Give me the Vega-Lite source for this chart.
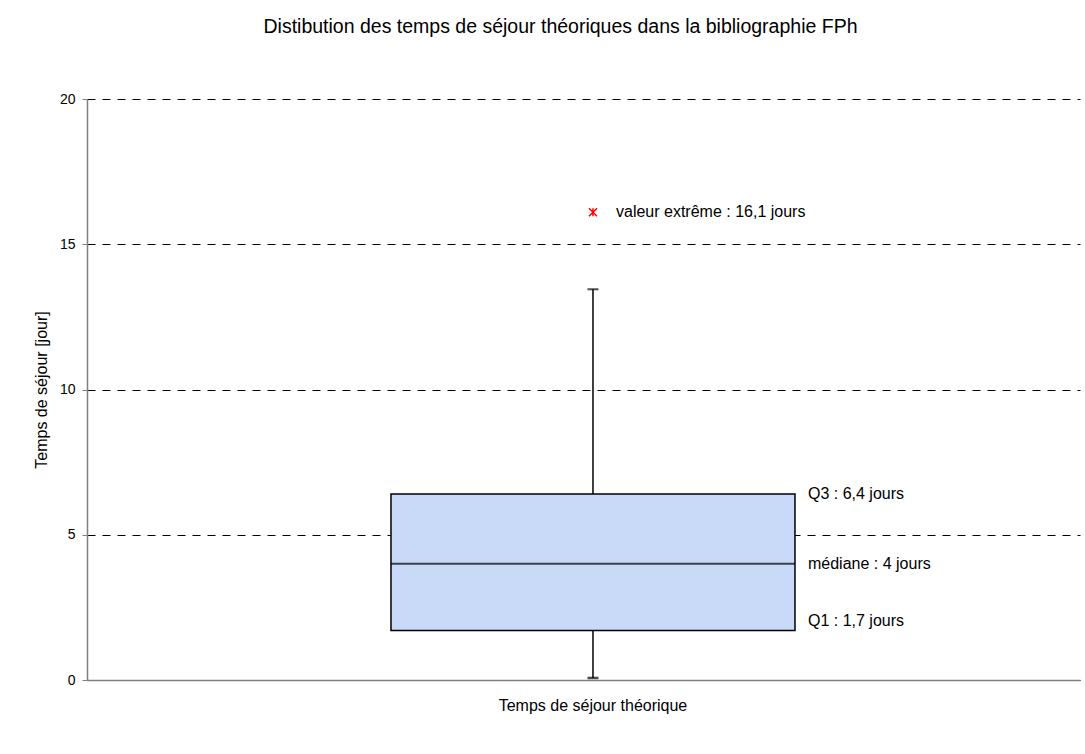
{
  "$schema": "https://vega.github.io/schema/vega-lite/v6.json",
  "autosize": {"type": "none"},
  "width": 993,
  "height": 581,
  "padding": {"left": 87, "top": 99, "right": 5, "bottom": 74},
  "background": "white",
  "title": {
    "text": "Distibution des temps de séjour théoriques dans la bibliographie FPh",
    "font": "Liberation Sans",
    "fontSize": 19.5,
    "fontWeight": "normal",
    "color": "black",
    "anchor": "middle",
    "offset": 55,
    "dx": -23
  },
  "config": {
    "view": {"stroke": null},
    "font": "Liberation Sans",
    "axis": {"labelFont": "Liberation Sans", "titleFont": "Liberation Sans", "labelColor": "black", "titleColor": "black"}
  },
  "datasets": {
    "stats": [
      {"cat": "Temps de séjour théorique", "lower": 0.07, "q1": 1.7, "median": 4.0, "q3": 6.4, "upper": 13.45}
    ],
    "outliers": [
      {"cat": "Temps de séjour théorique", "value": 16.1, "label": "valeur extrême : 16,1 jours"}
    ],
    "labels": [
      {"cat": "Temps de séjour théorique", "value": 6.4, "label": "Q3 : 6,4 jours"},
      {"cat": "Temps de séjour théorique", "value": 4.0, "label": "médiane : 4 jours"}
    ],
    "labelsQ1": [
      {"cat": "Temps de séjour théorique", "value": 1.7, "label": "Q1 : 1,7 jours"}
    ]
  },
  "encoding": {
    "x": {
      "field": "cat",
      "type": "nominal",
      "scale": {"paddingInner": 0, "paddingOuter": 0.5, "align": 0.5191},
      "axis": {
        "title": null,
        "labelAngle": 0,
        "ticks": false,
        "labelPadding": 17,
        "labelFontSize": 16,
        "labelLimit": 600,
        "domainColor": "#808080",
        "domainWidth": 1.5
      }
    }
  },
  "layer": [
    {
      "data": {"name": "stats"},
      "mark": {"type": "rule", "color": "black", "strokeWidth": 1.5},
      "encoding": {
        "y": {
          "field": "upper",
          "type": "quantitative",
          "scale": {"domain": [0, 20], "nice": false},
          "axis": {
            "title": "Temps de séjour [jour]",
            "titleFontSize": 16,
            "titleFontWeight": "normal",
            "titlePadding": 10,
            "values": [0, 5, 10, 15, 20],
            "labelFontSize": 14,
            "labelPadding": 7,
            "tickSize": 5,
            "tickColor": "#808080",
            "domainColor": "#808080",
            "domainWidth": 1.5,
            "grid": true,
            "gridColor": "black",
            "gridDash": [8, 7],
            "gridWidth": 1
          }
        },
        "y2": {"field": "q3"}
      }
    },
    {
      "data": {"name": "stats"},
      "mark": {"type": "rule", "color": "black", "strokeWidth": 1.5},
      "encoding": {
        "y": {"field": "lower", "type": "quantitative"},
        "y2": {"field": "q1"}
      }
    },
    {
      "data": {"name": "stats"},
      "mark": {"type": "bar", "size": 404, "fill": "#C9DAF8", "stroke": "black", "strokeWidth": 1.5},
      "encoding": {
        "y": {"field": "q1", "type": "quantitative"},
        "y2": {"field": "q3"}
      }
    },
    {
      "data": {"name": "stats"},
      "mark": {"type": "tick", "size": 404, "thickness": 2, "color": "black", "orient": "horizontal"},
      "encoding": {
        "y": {"field": "median", "type": "quantitative"}
      }
    },
    {
      "data": {"name": "stats"},
      "mark": {"type": "tick", "size": 11, "thickness": 2, "color": "black", "orient": "horizontal"},
      "encoding": {
        "y": {"field": "upper", "type": "quantitative"}
      }
    },
    {
      "data": {"name": "stats"},
      "mark": {"type": "tick", "size": 11, "thickness": 2.5, "color": "black", "orient": "horizontal"},
      "encoding": {
        "y": {"field": "lower", "type": "quantitative"}
      }
    },
    {
      "data": {"name": "outliers"},
      "mark": {"type": "point", "shape": "M-1,-1L1,1M-1,1L1,-1M0,-1L0,1", "size": 64, "filled": false, "stroke": "red", "strokeWidth": 1.5, "opacity": 1},
      "encoding": {
        "y": {"field": "value", "type": "quantitative"}
      }
    },
    {
      "data": {"name": "outliers"},
      "mark": {"type": "text", "align": "left", "baseline": "middle", "dx": 23, "fontSize": 16, "color": "black"},
      "encoding": {
        "y": {"field": "value", "type": "quantitative"},
        "text": {"field": "label"}
      }
    },
    {
      "data": {"name": "labels"},
      "mark": {"type": "text", "align": "left", "baseline": "middle", "dx": 215, "fontSize": 16, "color": "black"},
      "encoding": {
        "y": {"field": "value", "type": "quantitative"},
        "text": {"field": "label"}
      }
    },
    {
      "data": {"name": "labelsQ1"},
      "mark": {"type": "text", "align": "left", "baseline": "middle", "dx": 215, "dy": -10, "fontSize": 16, "color": "black"},
      "encoding": {
        "y": {"field": "value", "type": "quantitative"},
        "text": {"field": "label"}
      }
    }
  ]
}
